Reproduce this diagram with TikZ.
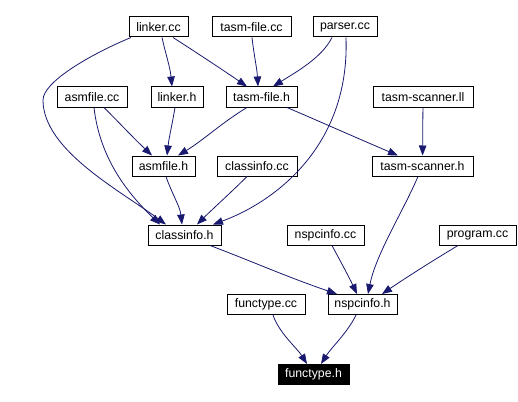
\documentclass[tikz,border=0pt]{standalone}
\usepackage{fontspec}
\setmainfont{Liberation Sans}
\usetikzlibrary{arrows.meta}
\definecolor{edgeblue}{HTML}{191970}
\tikzset{
  file/.style={draw=black, line width=1pt, fill=white, inner sep=0pt,
    font=\fontsize{12.3}{14}\selectfont, minimum height=20pt},
  cur/.style={file, fill=black, text=white},
  dep/.style={draw=edgeblue, line width=0.8pt,
    -{Triangle[length=10pt,width=7.5pt]}},
}
\begin{document}
\begin{tikzpicture}[x=1pt,y=-1pt]
\useasboundingbox (0,0) rectangle (518,401);
\fill[white] (0,0) rectangle (518,401);
% row 1
\node[file, minimum width=59pt] (linkercc) at (158.5,27) {linker.cc};
\node[file, minimum width=79pt] (tasmfilecc) at (251.5,27) {tasm-file.cc};
\node[file, minimum width=64pt] (parsercc) at (345,27) {parser.cc};
% row 2
\node[file, minimum width=70pt] (asmfilecc) at (92,97) {asmfile.cc};
\node[file, minimum width=52pt] (linkerh) at (177,97) {linker.h};
\node[file, minimum width=71pt] (tasmfileh) at (261.5,97) {tasm-file.h};
\node[file, minimum width=100pt] (tasmscannerll) at (423,97) {tasm-scanner.ll};
% row 3
\node[file, minimum width=63pt] (asmfileh) at (163.5,166) {asmfile.h};
\node[file, minimum width=80pt] (classinfocc) at (257,166) {classinfo.cc};
\node[file, minimum width=101pt] (tasmscannerh) at (422.5,166) {tasm-scanner.h};
% row 4
\node[file, minimum width=73pt] (classinfoh) at (184.5,235) {classinfo.h};
\node[file, minimum width=77pt] (nspcinfocc) at (325.5,235) {nspcinfo.cc};
\node[file, minimum width=77pt] (programcc) at (477.5,235) {program.cc};
% row 5
\node[file, minimum width=78pt] (functypecc) at (266,304.5) {functype.cc};
\node[file, minimum width=69pt] (nspcinfoh) at (362.5,304.5) {nspcinfo.h};
% row 6
\node[cur, minimum width=71pt] (functypeh) at (313.5,374.5) {functype.h};

% edges
\draw[dep] ([xshift=3.5pt]linkercc.south) .. controls +(4,18) and +(-2,-20) .. ([xshift=-5pt]linkerh.north);
\draw[dep] ([xshift=14.5pt]linkercc.south) .. controls +(25,16) and +(-22,-15) .. ([xshift=-14.5pt]tasmfileh.north);
\draw[dep] ([xshift=-27.5pt]linkercc.south) .. controls +(-41,17) and +(0,-18) .. (43,100)
   .. controls +(0,50) and +(-46,-34) .. ([xshift=-18.5pt]classinfoh.north);
\draw[dep] ([xshift=0.5pt]tasmfilecc.south) .. controls +(2,18) and +(-1,-18) .. ([xshift=-3.5pt]tasmfileh.north);
\draw[dep] ([xshift=-13pt]parsercc.south) .. controls +(-10,20) and +(24,-15) .. ([xshift=11.5pt]tasmfileh.north);
\draw[dep] ([xshift=1pt]parsercc.south) .. controls +(4,110) and +(60,-22) .. ([xshift=28.5pt]classinfoh.north);
\draw[dep] ([xshift=2pt]asmfilecc.south) .. controls +(6,53) and +(-30,-29) .. ([xshift=-24.5pt]classinfoh.north);
\draw[dep] ([xshift=12pt]asmfilecc.south) .. controls +(15,15) and +(-18,-17) .. ([xshift=-11.5pt]asmfileh.north);
\draw[dep] ([xshift=-2pt]linkerh.south) .. controls +(-3,18) and +(2,-18) .. ([xshift=3.5pt]asmfileh.north);
\draw[dep] ([xshift=-14.5pt]tasmfileh.south) .. controls +(-25,15) and +(25,-15) .. ([xshift=14.5pt]asmfileh.north);
\draw[dep] ([xshift=25.5pt]tasmfileh.south) .. controls +(35,15) and +(-40,-17) .. ([xshift=-24.5pt]tasmscannerh.north);
\draw[dep] (tasmscannerll) -- (tasmscannerh);
\draw[dep] ([xshift=2.5pt]asmfileh.south) .. controls +(5,15) and +(-2,-18) .. ([xshift=-2.5pt]classinfoh.north);
\draw[dep] ([xshift=-10pt]classinfocc.south) .. controls +(-15,15) and +(14,-14) .. ([xshift=12.5pt]classinfoh.north);
\draw[dep] ([xshift=-4.5pt]tasmscannerh.south) .. controls +(-15,35) and +(8,-40) .. ([xshift=5.5pt]nspcinfoh.north);
\draw[dep] ([xshift=25.5pt]classinfoh.south) .. controls +(40,15) and +(-50,-17) .. ([xshift=-25.5pt]nspcinfoh.north);
\draw[dep] ([xshift=6.5pt]nspcinfocc.south) .. controls +(8,15) and +(-8,-17) .. ([xshift=-5.5pt]nspcinfoh.north);
\draw[dep] ([xshift=-19.5pt]programcc.south) .. controls +(-25,15) and +(25,-17) .. ([xshift=19.5pt]nspcinfoh.north);
\draw[dep] ([xshift=7pt]functypecc.south) .. controls +(6,18) and +(-10,-16) .. ([xshift=-6.5pt]functypeh.north);
\draw[dep] ([xshift=-6.5pt]nspcinfoh.south) .. controls +(-8,17) and +(10,-16) .. ([xshift=7.5pt]functypeh.north);
\end{tikzpicture}
\end{document}
